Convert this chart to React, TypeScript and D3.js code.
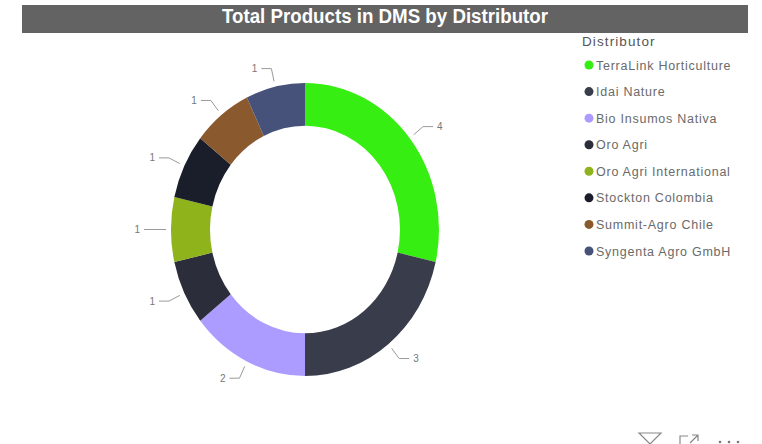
import React from "react";
import * as d3 from "d3";

const distributors = [
  "TerraLink Horticulture",
  "Idai Nature",
  "Bio Insumos Nativa",
  "Oro Agri",
  "Oro Agri International",
  "Stockton Colombia",
  "Summit-Agro Chile",
  "Syngenta Agro GmbH",
];
const productCounts = [4, 3, 2, 1, 1, 1, 1, 1];
const sliceColors = ["#37ee12", "#393c4a", "#ac9cff", "#2b2e3a", "#8fb31a", "#1a1e2b", "#8a5a2e", "#47527a"];
const chartTitle = "Total Products in DMS by Distributor";
const legendTitle = "Distributor";

const width = 762;
const height = 444;
const cx = 305;
const cy = 229.5;
const outerR = 134;
const innerR = 95;
// The ring is drawn slightly taller than wide.
const yStretch = 1.093;

type Row = { name: string; value: number; color: string };
const rows: Row[] = distributors.map((name, i) => ({ name, value: productCounts[i], color: sliceColors[i] }));

const pie = d3.pie<Row>().value((d) => d.value).sort(null);
const arc = d3.arc<d3.PieArcDatum<Row>>().innerRadius(innerR).outerRadius(outerR);
const slices = pie(rows);

const legendY = d3.scalePoint<string>().domain(distributors).range([65, 251]);

// Leader line from the ring edge: radial segment out, then a short horizontal run towards the label.
function leader(d: d3.PieArcDatum<Row>) {
  const mid = (d.startAngle + d.endAngle) / 2;
  const sin = Math.sin(mid);
  const cos = -Math.cos(mid) * yStretch;
  const side = sin >= 0 ? 1 : -1;
  const x0 = cx + (outerR + 5) * sin;
  const y0 = cy + (outerR + 5) * cos;
  const x1 = cx + (outerR + 17) * sin;
  const y1 = cy + (outerR + 17) * cos;
  const x2 = x1 + side * 10;
  return { path: d3.line()([[x0, y0], [x1, y1], [x2, y1]]) ?? "", lx: x2 + side * 4, ly: y1, side };
}

export default function App() {
  return (
    <svg
      width={width}
      height={height}
      viewBox={`0 0 ${width} ${height}`}
      style={{ position: "absolute", left: 0, top: 0, background: "#fff", overflow: "hidden" }}
    >
      <rect x={22} y={5} width={726} height={28} fill="#636363" />
      <text
        x={385}
        y={23}
        textAnchor="middle"
        fill="#fff"
        fontFamily="'Liberation Sans', sans-serif"
        fontWeight={700}
        fontSize={20}
        textLength={326}
        lengthAdjust="spacingAndGlyphs"
      >
        {chartTitle}
      </text>

      {slices.map((d) => (
        <path
          key={d.data.name}
          d={arc(d) ?? ""}
          transform={`translate(${cx},${cy}) scale(1,${yStretch})`}
          fill={d.data.color}
        />
      ))}

      {slices.map((d) => {
        const l = leader(d);
        return (
          <g key={d.data.name}>
            <path d={l.path} fill="none" stroke="#9a9a9a" strokeWidth={1} />
            <text
              x={l.lx}
              y={l.ly + 3.5}
              textAnchor={l.side > 0 ? "start" : "end"}
              fontFamily="'Liberation Sans', sans-serif"
              fontSize={10}
              fill="#777"
            >
              {d.data.value}
            </text>
          </g>
        );
      })}

      <text
        x={582}
        y={46}
        fontFamily="'Liberation Sans', sans-serif"
        fontSize={13.5}
        letterSpacing={1.1}
        fill="#555"
      >
        {legendTitle}
      </text>
      {rows.map((r) => (
        <g key={r.name}>
          <circle cx={589} cy={legendY(r.name)} r={4.5} fill={r.color} />
          <text
            x={596}
            y={(legendY(r.name) ?? 0) + 4.5}
            fontFamily="'Liberation Sans', sans-serif"
            fontSize={12.5}
            letterSpacing={0.75}
            fill="#6a6a6a"
          >
            {r.name}
          </text>
        </g>
      ))}

      {/* Visual header icons: filter, expand, more */}
      <g fill="none" stroke="#888" strokeWidth={1.2}>
        <path d="M639 433 H661 L650 444 Z" />
        <path d="M680 444 V436 H688 M692 435 H698 V441 M698 435 L690 443" />
      </g>
      <g fill="#777">
        <circle cx={720} cy={442} r={1.3} />
        <circle cx={729} cy={442} r={1.3} />
        <circle cx={738} cy={442} r={1.3} />
      </g>
    </svg>
  );
}
